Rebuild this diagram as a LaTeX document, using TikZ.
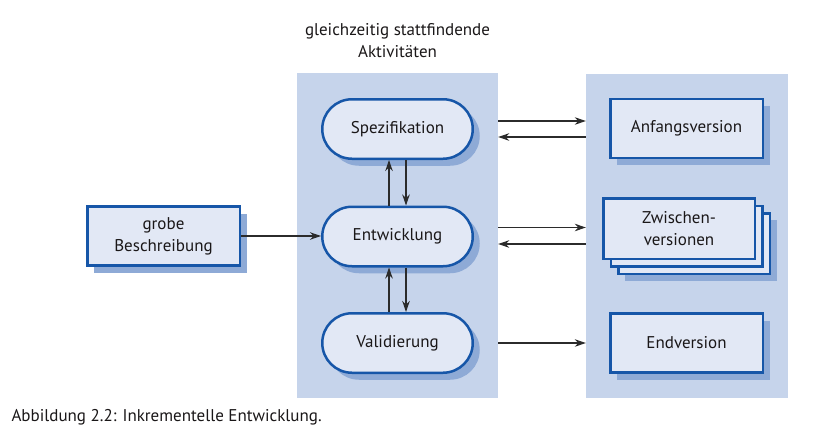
\documentclass[tikz,border=0pt]{standalone}
\usepackage{fontspec}
\setmainfont{PT Sans}
\usetikzlibrary{arrows.meta,shadows,positioning,calc}
\definecolor{panelblue}{HTML}{C6D4EB}
\definecolor{nodefill}{HTML}{E2E8F5}
\definecolor{borderblue}{HTML}{1656A8}
\definecolor{shadowblue}{HTML}{8EAAD6}
\definecolor{textgray}{HTML}{1A1718}
\definecolor{arrowgray}{HTML}{2B2B2B}

\begin{document}
\begin{tikzpicture}[x=1pt,y=-1pt,>={Stealth[length=11pt,width=7.5pt]},
	font=\fontsize{17}{22}\selectfont,text=textgray,
	panel/.style={fill=panelblue,inner sep=0pt},
	boxshadow/.style={drop shadow={shadow xshift=7pt,shadow yshift=-7pt,fill=shadowblue,opacity=1}},
	activity/.style={draw=borderblue,fill=nodefill,line width=2.5pt,rounded corners=29.75pt,minimum width=150.5pt,minimum height=59.5pt,boxshadow},
	version/.style={draw=borderblue,fill=nodefill,line width=2.5pt,minimum width=152.5pt,minimum height=59pt,align=center},
	flow/.style={->,draw=arrowgray,line width=1.1pt}]

	\useasboundingbox (0,0) rectangle (813,442);

	% Hintergrundflaechen
	\node[panel,minimum width=201pt,minimum height=325pt] (mid) at (397.5,235.5) {};
	\node[panel,minimum width=202pt,minimum height=324pt] (right) at (687,236) {};

	\node[align=center] (title) at (397.5,41) {gleichzeitig stattfindende\\Aktivitäten};

	% Aktivitaeten
	\node[activity] (spez) at (397.5,129) {Spezifikation};
	\node[activity] (entw) at (397.5,236.5) {Entwicklung};
	\node[activity] (vali) at (397.5,343) {Validierung};

	\node[version,boxshadow] (grob) at (163.5,236) {grobe\\Beschreibung};

	% Versionen
	\node[version,boxshadow] (anf) at (686.5,128.5) {Anfangsversion};
	\node[version,boxshadow,minimum width=151.5pt,minimum height=60.5pt] (zw3) at (694,243.5) {};
	\node[version,minimum width=151.5pt,minimum height=60.5pt] (zw2) at (686.5,236) {};
	\node[version,minimum width=151.5pt,minimum height=60.5pt] (zw) at (679,228.5) {Zwischen-\\versionen};
	\node[version,boxshadow] (endv) at (686.5,343) {Endversion};

	\node[anchor=west] (caption) at (8,417) {Abbildung 2.2: Inkrementelle Entwicklung.};

	% Verbindungen
	\draw[flow] (grob.east) -- (grob.east -| entw.west);
	\draw[flow] ($(entw.north)+(-8.5,0)$) -- ($(spez.south)+(-8.5,0)$);
	\draw[flow] ($(spez.south)+(8.5,0)$) -- ($(entw.north)+(8.5,0)$);
	\draw[flow] ($(vali.north)+(-8.5,0)$) -- ($(entw.south)+(-8.5,0)$);
	\draw[flow] ($(entw.south)+(8.5,0)$) -- ($(vali.north)+(8.5,0)$);

	\draw[flow] ($(mid.east |- spez)+(0,-8)$) -- ($(right.west |- spez)+(0,-8)$);
	\draw[flow] ($(right.west |- spez)+(0,8)$) -- ($(mid.east |- spez)+(0,8)$);
	\draw[flow] ($(mid.east |- entw)+(0,-9)$) -- ($(right.west |- entw)+(0,-9)$);
	\draw[flow] ($(right.west |- entw)+(0,7.5)$) -- ($(mid.east |- entw)+(0,7.5)$);
	\draw[flow] (mid.east |- vali) -- (right.west |- vali);

\end{tikzpicture}
\end{document}
